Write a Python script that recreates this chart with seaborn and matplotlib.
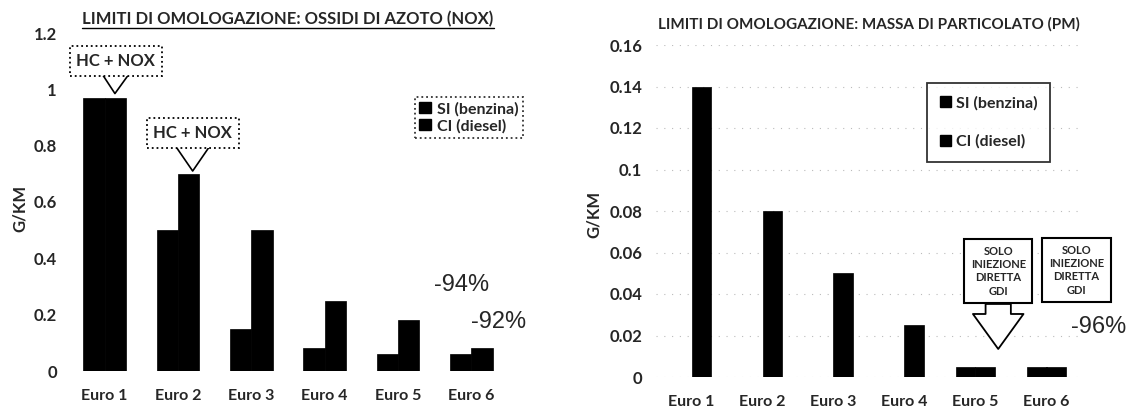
import numpy as np
import pandas as pd
import matplotlib
matplotlib.use('Agg')
import matplotlib.pyplot as plt
import seaborn as sns
from matplotlib.patches import Patch
from matplotlib.lines import Line2D

# ------------------------------------------------------------------
# Data
# ------------------------------------------------------------------
euro = ['Euro 1', 'Euro 2', 'Euro 3', 'Euro 4', 'Euro 5', 'Euro 6']
series = ['SI (benzina)', 'CI (diesel)']

nox_si = [0.97, 0.50, 0.15, 0.08, 0.06, 0.06]
nox_ci = [0.97, 0.70, 0.50, 0.25, 0.18, 0.08]

pm_si = [0.0, 0.0, 0.0, 0.0, 0.005, 0.005]
pm_ci = [0.14, 0.08, 0.05, 0.025, 0.005, 0.005]

nox_ticks = [0, 0.2, 0.4, 0.6, 0.8, 1.0, 1.2]
pm_ticks = [0, 0.02, 0.04, 0.06, 0.08, 0.1, 0.12, 0.14, 0.16]

df_nox = pd.DataFrame({'euro': euro * 2, 'tipo': [series[0]] * 6 + [series[1]] * 6,
                       'val': nox_si + nox_ci})
df_pm = pd.DataFrame({'euro': euro * 2, 'tipo': [series[0]] * 6 + [series[1]] * 6,
                      'val': pm_si + pm_ci})

sns.set_style('white')
plt.rcParams['font.family'] = ['Lato', 'DejaVu Sans']
plt.rcParams['font.weight'] = 'bold'
pct_font = ['Liberation Sans', 'DejaVu Sans']

W, H = 1134, 409
fig = plt.figure(figsize=(W / 100, H / 100), dpi=100)

ax1 = fig.add_axes([68 / W, 38 / H, 440 / W, 338 / H])
ax2 = fig.add_axes([656 / W, 32 / H, 426 / W, 332 / H])

pal = ['black', 'black']

# ------------------------------------------------------------------
# Chart 1: NOX
# ------------------------------------------------------------------
sns.barplot(data=df_nox, x='euro', y='val', hue='tipo', palette=pal, width=0.58,
            saturation=1, ax=ax1, legend=False, edgecolor='black', linewidth=0.5)
ax1.set_ylim(0, 1.2)
ax1.set_xlim(-0.5, 5.5)
ax1.set_yticks(nox_ticks)
ax1.set_yticklabels(['%g' % t for t in nox_ticks], fontsize=12, fontweight='bold')
ax1.set_xlabel('')
ax1.set_ylabel('G/KM', fontsize=12, fontweight='bold')
ax1.yaxis.set_label_coords(-0.092, 0.48)
ax1.tick_params(axis='x', labelsize=11.5, pad=13, length=0)
ax1.tick_params(axis='y', pad=8, length=0)
for lab in ax1.get_xticklabels():
    lab.set_fontweight('bold')

t1 = ax1.text(0.5, 1.018, 'LIMITI DI OMOLOGAZIONE: OSSIDI DI AZOTO (NOX)', transform=ax1.transAxes,
              ha='center', va='bottom', fontsize=12, fontweight='bold')

leg1 = ax1.legend(handles=[Patch(color='black', label=s) for s in series], loc='upper right',
                  bbox_to_anchor=(1.035, 0.81), frameon=True, fancybox=False,
                  handlelength=0.7, handleheight=0.7, handletextpad=0.4, borderpad=0.3,
                  labelspacing=0.15, borderaxespad=0, prop={'weight': 'bold', 'size': 11.5})
leg1.get_frame().set_edgecolor('black')
leg1.get_frame().set_linestyle(':')
leg1.get_frame().set_linewidth(1.3)

box = dict(boxstyle='square,pad=0.4', fc='white', ec='black', lw=1.3, ls=':')
arr = dict(arrowstyle='simple,head_width=1.1,head_length=0.8,tail_width=0.55',
           mutation_scale=22, fc='white', ec='black', lw=1.2, shrinkA=0, shrinkB=0)
ax1.annotate('HC + NOX', xy=(0.14, 0.985), xytext=(0.15, 1.10), ha='center', va='center',
             fontsize=12, fontweight='bold', bbox=box, arrowprops=arr)
ax1.annotate('HC + NOX', xy=(1.2, 0.71), xytext=(1.2, 0.845), ha='center', va='center',
             fontsize=12, fontweight='bold', bbox=box, arrowprops=arr)

ax1.text(4.86, 0.305, '-94%', ha='center', va='center', fontsize=17, fontweight='normal',
         family=pct_font)
ax1.text(5.37, 0.174, '-92%', ha='center', va='center', fontsize=17, fontweight='normal',
         family=pct_font)

# ------------------------------------------------------------------
# Chart 2: PM
# ------------------------------------------------------------------
sns.barplot(data=df_pm, x='euro', y='val', hue='tipo', palette=pal, width=0.54,
            saturation=1, ax=ax2, legend=False, edgecolor='black', linewidth=0.5)
ax2.set_ylim(0, 0.16)
ax2.set_xlim(-0.5, 5.5)
ax2.set_yticks(pm_ticks)
ax2.set_yticklabels(['%g' % t for t in pm_ticks], fontsize=12, fontweight='bold')
ax2.set_xlabel('')
ax2.set_ylabel('G/KM', fontsize=12, fontweight='bold')
ax2.yaxis.set_label_coords(-0.127, 0.49)
ax2.tick_params(axis='x', labelsize=11.5, pad=13, length=0)
ax2.tick_params(axis='y', pad=10, length=0)
for lab in ax2.get_xticklabels():
    lab.set_fontweight('bold')
ax2.yaxis.grid(True, color='#bbbbbb', linestyle=(0, (1, 6)), linewidth=0.8)

ax2.text(0.5, 1.04, 'LIMITI DI OMOLOGAZIONE: MASSA DI PARTICOLATO (PM)', transform=ax2.transAxes,
         ha='center', va='bottom', fontsize=11, fontweight='bold')

leg2 = ax2.legend(handles=[Patch(color='black', label=s) for s in series], loc='upper right',
                  bbox_to_anchor=(0.925, 0.885), frameon=True, fancybox=False,
                  handlelength=0.7, handleheight=0.7, handletextpad=0.3, borderpad=0.8,
                  labelspacing=1.5, borderaxespad=0, prop={'weight': 'bold', 'size': 11.5})
leg2.get_frame().set_edgecolor('black')
leg2.get_frame().set_linewidth(1.3)

box2 = dict(boxstyle='square,pad=0.6', fc='white', ec='black', lw=1.5)
arr2 = dict(arrowstyle='simple,head_width=1.3,head_length=0.9,tail_width=0.65',
            mutation_scale=28, fc='white', ec='black', lw=1.3, shrinkA=0, shrinkB=0)
gdi = 'SOLO\nINIEZIONE\nDIRETTA\nGDI'
ax2.annotate(gdi, xy=(4.32, 0.0135), xytext=(4.32, 0.051), ha='center', va='center',
             fontsize=8, fontweight='bold', linespacing=1.25, bbox=box2, arrowprops=arr2)
ax2.text(5.42, 0.0515, gdi, ha='center', va='center', fontsize=8, fontweight='bold',
         linespacing=1.25, bbox=box2)
ax2.text(5.73, 0.024, '-96%', ha='center', va='center', fontsize=17, fontweight='normal',
         family=pct_font)

for ax in (ax1, ax2):
    sns.despine(ax=ax, left=True, bottom=True)

# underline for the first title
fig.canvas.draw()
bb = t1.get_window_extent().transformed(fig.transFigure.inverted())
fig.add_artist(Line2D([bb.x0, bb.x1], [bb.y0 - 0.002, bb.y0 - 0.002], color='black',
                      lw=1.0, transform=fig.transFigure))

plt.savefig('out.png', dpi=100, facecolor='white')
plt.close()
